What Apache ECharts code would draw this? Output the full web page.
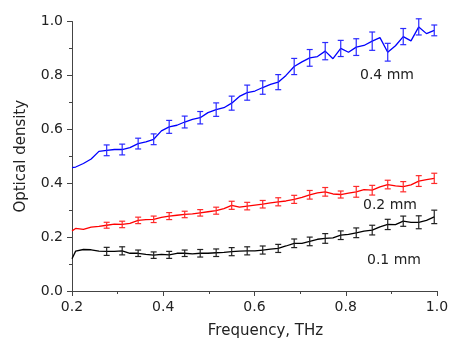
<!DOCTYPE html>
<html>
<head>
<meta charset="utf-8">
<script src="https://cdn.jsdelivr.net/npm/echarts@6/dist/echarts.min.js"></script>
<style>
  html, body { margin: 0; padding: 0; background: #fff; }
  #chart { width: 449px; height: 343px; }
</style>
</head>
<body>
<div id="chart"></div>
<script>
// frequency grid (THz)
const freq = [0.2, 0.208, 0.225, 0.242, 0.259, 0.276, 0.293, 0.310, 0.327, 0.345,
  0.362, 0.379, 0.396, 0.413, 0.430, 0.447, 0.464, 0.481, 0.498, 0.516,
  0.533, 0.550, 0.567, 0.584, 0.601, 0.618, 0.635, 0.652, 0.669, 0.687,
  0.704, 0.721, 0.738, 0.755, 0.772, 0.789, 0.806, 0.823, 0.840, 0.858,
  0.875, 0.892, 0.909, 0.926, 0.943, 0.960, 0.977, 0.994]

// optical density, 0.4 mm
const od04 = [0.458, 0.46, 0.473, 0.49, 0.518, 0.522, 0.525, 0.525, 0.532, 0.547,
  0.553, 0.563, 0.594, 0.609, 0.615, 0.627, 0.637, 0.643, 0.662, 0.673,
  0.68, 0.697, 0.722, 0.736, 0.742, 0.755, 0.767, 0.775, 0.8, 0.833,
  0.85, 0.865, 0.87, 0.89, 0.862, 0.9, 0.886, 0.905, 0.911, 0.927,
  0.94, 0.886, 0.91, 0.944, 0.928, 0.98, 0.955, 0.967]

// optical density, 0.2 mm
const od02 = [0.223, 0.232, 0.229, 0.237, 0.24, 0.244, 0.248, 0.247, 0.251, 0.262,
  0.265, 0.266, 0.273, 0.278, 0.281, 0.284, 0.286, 0.29, 0.294, 0.298,
  0.306, 0.318, 0.311, 0.315, 0.319, 0.322, 0.327, 0.331, 0.334, 0.34,
  0.347, 0.357, 0.364, 0.368, 0.36, 0.358, 0.363, 0.368, 0.376, 0.374,
  0.386, 0.395, 0.39, 0.387, 0.394, 0.408, 0.413, 0.418]

// optical density, 0.1 mm
const od01 = [0.12, 0.148, 0.154, 0.153, 0.148, 0.147, 0.147, 0.149, 0.14, 0.14,
  0.136, 0.133, 0.136, 0.134, 0.14, 0.14, 0.138, 0.14, 0.14, 0.142,
  0.143, 0.146, 0.148, 0.149, 0.149, 0.152, 0.155, 0.158, 0.167, 0.177,
  0.177, 0.184, 0.192, 0.195, 0.197, 0.207, 0.21, 0.216, 0.222, 0.226,
  0.238, 0.247, 0.246, 0.259, 0.255, 0.255, 0.262, 0.275]

// error bar half-widths (every second point from 0.276 THz)
const err04 = [0.02, 0.02, 0.02, 0.02, 0.024, 0.022, 0.023, 0.025, 0.026, 0.028, 0.025,
  0.028, 0.03, 0.031, 0.032, 0.03, 0.031, 0.034, 0.033, 0.03, 0.03, 0.02]
const err02 = [0.011, 0.012, 0.012, 0.012, 0.013, 0.012, 0.012, 0.013, 0.015, 0.014, 0.014,
  0.015, 0.015, 0.016, 0.016, 0.013, 0.02, 0.018, 0.016, 0.019, 0.02, 0.019]
const err01 = [0.015, 0.015, 0.012, 0.012, 0.013, 0.012, 0.014, 0.014, 0.015, 0.015, 0.015,
  0.015, 0.016, 0.016, 0.018, 0.016, 0.018, 0.018, 0.019, 0.019, 0.024, 0.025]

const xTicks = [0.2, 0.4, 0.6, 0.8, 1.0]
const yTicks = [0.0, 0.2, 0.4, 0.6, 0.8, 1.0]
const labels = ['0.4 mm', '0.2 mm', '0.1 mm']

const FONT = 'DejaVu Sans'
const ERR_START = 5

function pairs(ys) {
    return freq.map((f, i) => [f, ys[i]])
}

function errData(ys, errs) {
    return errs.map((e, j) => {
        const i = ERR_START + 2 * j
        return [freq[i], ys[i] - e, ys[i] + e]
    })
}

function renderErrorBar(params, api) {
    const x = api.value(0)
    const lo = api.coord([x, api.value(1)])
    const hi = api.coord([x, api.value(2)])
    const w = 3
    const style = { stroke: api.visual('color'), lineWidth: 1.2 }
    return {
        type: 'group',
        children: [
            { type: 'line', shape: { x1: lo[0], y1: lo[1], x2: hi[0], y2: hi[1] }, style },
            { type: 'line', shape: { x1: hi[0] - w, y1: hi[1], x2: hi[0] + w, y2: hi[1] }, style },
            { type: 'line', shape: { x1: lo[0] - w, y1: lo[1], x2: lo[0] + w, y2: lo[1] }, style }
        ]
    }
}

function lineSeries(ys, color) {
    return {
        type: 'line', data: pairs(ys), showSymbol: false, symbol: 'none',
        lineStyle: { color, width: 1.3 }, z: 2, animation: false
    }
}

function errSeries(ys, errs, color) {
    return {
        type: 'custom', data: errData(ys, errs), renderItem: renderErrorBar,
        itemStyle: { color, opacity: 0.75 }, z: 3, animation: false
    }
}

const axisCommon = {
    axisLine: { lineStyle: { color: '#444', width: 1 } },
    axisTick: { show: true, inside: false, length: 5, lineStyle: { color: '#444' } },
    minorTick: { show: true, splitNumber: 2, length: 3, lineStyle: { color: '#444' } },
    splitLine: { show: false },
    minorSplitLine: { show: false },
    axisLabel: { fontFamily: FONT, fontSize: 14, color: '#222', margin: 9, formatter: v => v.toFixed(1) },
    nameTextStyle: { fontFamily: FONT, fontSize: 15, color: '#222' }
}

const chart = echarts.init(document.getElementById('chart'), null, { renderer: 'canvas' })

chart.setOption({
    animation: false,
    grid: { left: 72, right: 12, top: 21.5, bottom: 52, containLabel: false, outerBoundsMode: 'none' },
    xAxis: Object.assign({}, axisCommon, {
        type: 'value', min: xTicks[0], max: xTicks[xTicks.length - 1], interval: 0.2,
        name: 'Frequency, THz', nameLocation: 'middle', nameGap: 33,
        nameTextStyle: Object.assign({}, axisCommon.nameTextStyle, { padding: [0, 0, 0, 22] })
    }),
    yAxis: Object.assign({}, axisCommon, {
        type: 'value', min: yTicks[0], max: yTicks[yTicks.length - 1], interval: 0.2,
        name: 'Optical density', nameLocation: 'middle', nameGap: 43
    }),
    graphic: [
        { type: 'text', left: 360, top: 68, style: { text: labels[0], font: '14px "DejaVu Sans"', fill: '#222' } },
        { type: 'text', left: 363, top: 198, style: { text: labels[1], font: '14px "DejaVu Sans"', fill: '#222' } },
        { type: 'text', left: 367, top: 253, style: { text: labels[2], font: '14px "DejaVu Sans"', fill: '#222' } }
    ],
    series: [
        lineSeries(od04, '#0000ff'),
        lineSeries(od02, '#ff0000'),
        lineSeries(od01, '#000000'),
        errSeries(od04, err04, '#2a2aff'),
        errSeries(od02, err02, '#ff2a2a'),
        errSeries(od01, err01, '#222222')
    ]
})
</script>
</body>
</html>
